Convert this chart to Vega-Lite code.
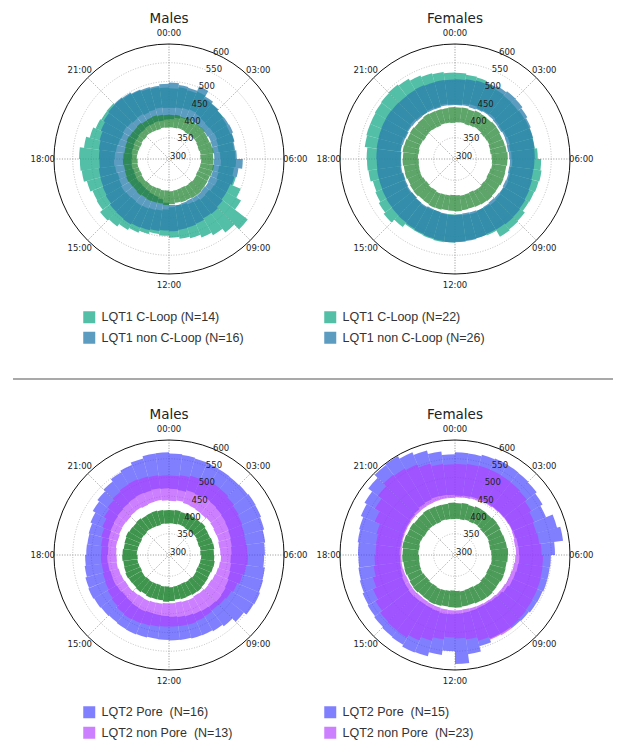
{
"$schema":"https://vega.github.io/schema/vega-lite/v6.json",
"padding":{"left":12,"top":12,"right":5,"bottom":5},
"background":"white",
"config":{"view":{"stroke":null},
 "title":{"font":"DejaVu Sans","fontSize":13.5,"fontWeight":"normal","color":"#222","offset":3,"baseline":"bottom"},
 "legend":{"symbolType":"square","symbolSize":144,"symbolStrokeWidth":0,"labelFont":"Liberation Sans","labelFontSize":12.5,"labelColor":"#333","labelOffset":6,"rowPadding":7.5,"padding":0,"labelLimit":300}},
"datasets":{
"grid":[{"r":300},{"r":350},{"r":400},{"r":450},{"r":500},{"r":550}],
"spokes":[{"h":0},{"h":3},{"h":6},{"h":9},{"h":12},{"h":15},{"h":18},{"h":21}],
"hours":[{"h":0,"lab":"00:00"},{"h":3,"lab":"03:00"},{"h":6,"lab":"06:00"},{"h":9,"lab":"09:00"},{"h":12,"lab":"12:00"},{"h":15,"lab":"15:00"},{"h":18,"lab":"18:00"},{"h":21,"lab":"21:00"}],
"rlab":[{"r":300,"lab":"300"},{"r":350,"lab":"350"},{"r":400,"lab":"400"},{"r":450,"lab":"450"},{"r":500,"lab":"500"},{"r":550,"lab":"550"},{"r":600,"lab":"600"}],
"tl":[
{"t":0,"alo":430,"ahi":482,"blo":400,"bhi":497,"glo":378,"ghi":411},
{"t":0.5,"alo":432,"ahi":486,"blo":404,"bhi":492,"glo":377,"ghi":412},
{"t":1,"alo":434,"ahi":483,"blo":408,"bhi":490,"glo":379,"ghi":410},
{"t":1.5,"alo":436,"ahi":488,"blo":410,"bhi":503,"glo":378,"ghi":413},
{"t":2,"alo":433,"ahi":480,"blo":412,"bhi":486,"glo":376,"ghi":411},
{"t":2.5,"alo":430,"ahi":478,"blo":411,"bhi":480,"glo":377,"ghi":412},
{"t":3,"alo":428,"ahi":476,"blo":413,"bhi":475,"glo":378,"ghi":414},
{"t":3.5,"alo":430,"ahi":472,"blo":412,"bhi":477,"glo":379,"ghi":411},
{"t":4,"alo":432,"ahi":470,"blo":414,"bhi":478,"glo":377,"ghi":410},
{"t":4.5,"alo":429,"ahi":473,"blo":413,"bhi":474,"glo":376,"ghi":412},
{"t":5,"alo":427,"ahi":468,"blo":412,"bhi":471,"glo":378,"ghi":413},
{"t":5.5,"alo":430,"ahi":470,"blo":414,"bhi":474,"glo":377,"ghi":411},
{"t":6,"alo":432,"ahi":472,"blo":413,"bhi":490,"glo":379,"ghi":412},
{"t":6.5,"alo":428,"ahi":468,"blo":412,"bhi":480,"glo":378,"ghi":414},
{"t":7,"alo":430,"ahi":478,"blo":414,"bhi":474,"glo":377,"ghi":413},
{"t":7.5,"alo":434,"ahi":500,"blo":413,"bhi":470,"glo":376,"ghi":411},
{"t":8,"alo":432,"ahi":515,"blo":415,"bhi":470,"glo":378,"ghi":412},
{"t":8.5,"alo":428,"ahi":558,"blo":414,"bhi":474,"glo":379,"ghi":413},
{"t":9,"alo":430,"ahi":540,"blo":416,"bhi":478,"glo":377,"ghi":415},
{"t":9.5,"alo":426,"ahi":528,"blo":415,"bhi":476,"glo":378,"ghi":414},
{"t":10,"alo":424,"ahi":520,"blo":414,"bhi":480,"glo":376,"ghi":412},
{"t":10.5,"alo":420,"ahi":512,"blo":416,"bhi":482,"glo":377,"ghi":413},
{"t":11,"alo":418,"ahi":508,"blo":418,"bhi":484,"glo":378,"ghi":411},
{"t":11.5,"alo":422,"ahi":503,"blo":416,"bhi":486,"glo":379,"ghi":414},
{"t":12,"alo":428,"ahi":498,"blo":410,"bhi":484,"glo":377,"ghi":416},
{"t":12.5,"alo":432,"ahi":495,"blo":402,"bhi":487,"glo":378,"ghi":413},
{"t":13,"alo":434,"ahi":500,"blo":398,"bhi":490,"glo":376,"ghi":414},
{"t":13.5,"alo":436,"ahi":506,"blo":396,"bhi":492,"glo":377,"ghi":415},
{"t":14,"alo":438,"ahi":512,"blo":394,"bhi":495,"glo":378,"ghi":413},
{"t":14.5,"alo":436,"ahi":520,"blo":393,"bhi":493,"glo":377,"ghi":416},
{"t":15,"alo":438,"ahi":525,"blo":392,"bhi":492,"glo":379,"ghi":414},
{"t":15.5,"alo":440,"ahi":516,"blo":394,"bhi":488,"glo":378,"ghi":415},
{"t":16,"alo":437,"ahi":514,"blo":393,"bhi":485,"glo":376,"ghi":417},
{"t":16.5,"alo":435,"ahi":520,"blo":392,"bhi":483,"glo":377,"ghi":415},
{"t":17,"alo":438,"ahi":528,"blo":394,"bhi":482,"glo":378,"ghi":414},
{"t":17.5,"alo":440,"ahi":531,"blo":393,"bhi":479,"glo":377,"ghi":416},
{"t":18,"alo":438,"ahi":533,"blo":392,"bhi":480,"glo":379,"ghi":415},
{"t":18.5,"alo":436,"ahi":522,"blo":394,"bhi":482,"glo":378,"ghi":413},
{"t":19,"alo":434,"ahi":512,"blo":393,"bhi":485,"glo":377,"ghi":414},
{"t":19.5,"alo":432,"ahi":505,"blo":395,"bhi":490,"glo":376,"ghi":416},
{"t":20,"alo":435,"ahi":502,"blo":394,"bhi":495,"glo":378,"ghi":414},
{"t":20.5,"alo":433,"ahi":503,"blo":396,"bhi":498,"glo":377,"ghi":413},
{"t":21,"alo":430,"ahi":498,"blo":395,"bhi":500,"glo":379,"ghi":415},
{"t":21.5,"alo":432,"ahi":495,"blo":397,"bhi":498,"glo":378,"ghi":412},
{"t":22,"alo":428,"ahi":492,"blo":396,"bhi":494,"glo":377,"ghi":413},
{"t":22.5,"alo":430,"ahi":488,"blo":398,"bhi":492,"glo":376,"ghi":414},
{"t":23,"alo":432,"ahi":486,"blo":397,"bhi":490,"glo":378,"ghi":412},
{"t":23.5,"alo":430,"ahi":484,"blo":399,"bhi":494,"glo":377,"ghi":411}
],
"tr":[
{"t":0,"alo":439,"ahi":523,"blo":437,"bhi":506,"glo":391,"ghi":431},
{"t":0.5,"alo":442,"ahi":520,"blo":438,"bhi":508,"glo":392,"ghi":432},
{"t":1,"alo":444,"ahi":518,"blo":436,"bhi":510,"glo":390,"ghi":430},
{"t":1.5,"alo":441,"ahi":512,"blo":438,"bhi":514,"glo":391,"ghi":433},
{"t":2,"alo":443,"ahi":508,"blo":440,"bhi":518,"glo":393,"ghi":432},
{"t":2.5,"alo":445,"ahi":506,"blo":439,"bhi":521,"glo":392,"ghi":431},
{"t":3,"alo":442,"ahi":505,"blo":437,"bhi":520,"glo":390,"ghi":433},
{"t":3.5,"alo":440,"ahi":507,"blo":436,"bhi":516,"glo":391,"ghi":432},
{"t":4,"alo":443,"ahi":508,"blo":438,"bhi":512,"glo":392,"ghi":430},
{"t":4.5,"alo":445,"ahi":508,"blo":437,"bhi":509,"glo":390,"ghi":431},
{"t":5,"alo":442,"ahi":508,"blo":436,"bhi":507,"glo":389,"ghi":432},
{"t":5.5,"alo":444,"ahi":514,"blo":438,"bhi":506,"glo":391,"ghi":434},
{"t":6,"alo":446,"ahi":523,"blo":440,"bhi":505,"glo":392,"ghi":433},
{"t":6.5,"alo":443,"ahi":526,"blo":439,"bhi":504,"glo":393,"ghi":431},
{"t":7,"alo":445,"ahi":524,"blo":441,"bhi":506,"glo":391,"ghi":432},
{"t":7.5,"alo":447,"ahi":522,"blo":440,"bhi":508,"glo":390,"ghi":433},
{"t":8,"alo":444,"ahi":521,"blo":442,"bhi":510,"glo":392,"ghi":431},
{"t":8.5,"alo":446,"ahi":528,"blo":441,"bhi":512,"glo":391,"ghi":432},
{"t":9,"alo":448,"ahi":530,"blo":440,"bhi":513,"glo":393,"ghi":434},
{"t":9.5,"alo":445,"ahi":533,"blo":442,"bhi":511,"glo":392,"ghi":433},
{"t":10,"alo":443,"ahi":514,"blo":443,"bhi":510,"glo":390,"ghi":432},
{"t":10.5,"alo":446,"ahi":512,"blo":441,"bhi":512,"glo":391,"ghi":430},
{"t":11,"alo":444,"ahi":512,"blo":440,"bhi":514,"glo":392,"ghi":431},
{"t":11.5,"alo":442,"ahi":514,"blo":442,"bhi":515,"glo":390,"ghi":433},
{"t":12,"alo":441,"ahi":516,"blo":443,"bhi":516,"glo":389,"ghi":432},
{"t":12.5,"alo":443,"ahi":517,"blo":441,"bhi":514,"glo":391,"ghi":431},
{"t":13,"alo":440,"ahi":515,"blo":440,"bhi":512,"glo":392,"ghi":433},
{"t":13.5,"alo":442,"ahi":513,"blo":439,"bhi":510,"glo":393,"ghi":434},
{"t":14,"alo":444,"ahi":512,"blo":441,"bhi":508,"glo":391,"ghi":432},
{"t":14.5,"alo":441,"ahi":522,"blo":440,"bhi":507,"glo":392,"ghi":431},
{"t":15,"alo":439,"ahi":533,"blo":438,"bhi":506,"glo":390,"ghi":433},
{"t":15.5,"alo":442,"ahi":528,"blo":439,"bhi":505,"glo":391,"ghi":432},
{"t":16,"alo":440,"ahi":523,"blo":437,"bhi":504,"glo":393,"ghi":430},
{"t":16.5,"alo":438,"ahi":520,"blo":436,"bhi":503,"glo":392,"ghi":432},
{"t":17,"alo":441,"ahi":526,"blo":438,"bhi":503,"glo":391,"ghi":431},
{"t":17.5,"alo":439,"ahi":528,"blo":437,"bhi":502,"glo":390,"ghi":433},
{"t":18,"alo":437,"ahi":529,"blo":438,"bhi":503,"glo":392,"ghi":432},
{"t":18.5,"alo":440,"ahi":536,"blo":439,"bhi":504,"glo":391,"ghi":434},
{"t":19,"alo":442,"ahi":538,"blo":437,"bhi":505,"glo":393,"ghi":433},
{"t":19.5,"alo":439,"ahi":538,"blo":436,"bhi":506,"glo":392,"ghi":431},
{"t":20,"alo":441,"ahi":540,"blo":438,"bhi":507,"glo":390,"ghi":432},
{"t":20.5,"alo":443,"ahi":542,"blo":437,"bhi":506,"glo":391,"ghi":430},
{"t":21,"alo":440,"ahi":544,"blo":436,"bhi":505,"glo":392,"ghi":431},
{"t":21.5,"alo":438,"ahi":540,"blo":438,"bhi":506,"glo":391,"ghi":433},
{"t":22,"alo":441,"ahi":534,"blo":437,"bhi":507,"glo":390,"ghi":432},
{"t":22.5,"alo":439,"ahi":530,"blo":436,"bhi":505,"glo":392,"ghi":431},
{"t":23,"alo":442,"ahi":527,"blo":438,"bhi":506,"glo":391,"ghi":430},
{"t":23.5,"alo":440,"ahi":524,"blo":437,"bhi":505,"glo":390,"ghi":432}
],
"bl":[
{"t":0,"alo":470,"ahi":564,"blo":438,"bhi":505,"glo":378,"ghi":413},
{"t":0.5,"alo":468,"ahi":562,"blo":440,"bhi":508,"glo":377,"ghi":414},
{"t":1,"alo":472,"ahi":560,"blo":437,"bhi":512,"glo":379,"ghi":412},
{"t":1.5,"alo":470,"ahi":559,"blo":435,"bhi":515,"glo":378,"ghi":415},
{"t":2,"alo":474,"ahi":558,"blo":433,"bhi":517,"glo":376,"ghi":413},
{"t":2.5,"alo":472,"ahi":557,"blo":432,"bhi":516,"glo":377,"ghi":414},
{"t":3,"alo":470,"ahi":558,"blo":434,"bhi":512,"glo":378,"ghi":416},
{"t":3.5,"alo":468,"ahi":560,"blo":432,"bhi":508,"glo":379,"ghi":413},
{"t":4,"alo":466,"ahi":559,"blo":430,"bhi":505,"glo":377,"ghi":412},
{"t":4.5,"alo":464,"ahi":556,"blo":431,"bhi":502,"glo":376,"ghi":414},
{"t":5,"alo":462,"ahi":552,"blo":429,"bhi":500,"glo":378,"ghi":415},
{"t":5.5,"alo":460,"ahi":549,"blo":430,"bhi":502,"glo":377,"ghi":413},
{"t":6,"alo":458,"ahi":547,"blo":432,"bhi":504,"glo":379,"ghi":414},
{"t":6.5,"alo":460,"ahi":551,"blo":430,"bhi":500,"glo":378,"ghi":416},
{"t":7,"alo":462,"ahi":553,"blo":428,"bhi":496,"glo":377,"ghi":415},
{"t":7.5,"alo":465,"ahi":556,"blo":426,"bhi":490,"glo":376,"ghi":413},
{"t":8,"alo":468,"ahi":554,"blo":424,"bhi":485,"glo":378,"ghi":414},
{"t":8.5,"alo":470,"ahi":545,"blo":425,"bhi":482,"glo":379,"ghi":415},
{"t":9,"alo":468,"ahi":533,"blo":423,"bhi":480,"glo":377,"ghi":417},
{"t":9.5,"alo":466,"ahi":528,"blo":422,"bhi":482,"glo":378,"ghi":416},
{"t":10,"alo":464,"ahi":525,"blo":424,"bhi":484,"glo":376,"ghi":414},
{"t":10.5,"alo":462,"ahi":524,"blo":423,"bhi":486,"glo":377,"ghi":415},
{"t":11,"alo":460,"ahi":522,"blo":421,"bhi":485,"glo":378,"ghi":413},
{"t":11.5,"alo":458,"ahi":521,"blo":422,"bhi":484,"glo":379,"ghi":416},
{"t":12,"alo":456,"ahi":520,"blo":422,"bhi":484,"glo":377,"ghi":418},
{"t":12.5,"alo":455,"ahi":519,"blo":424,"bhi":486,"glo":378,"ghi":415},
{"t":13,"alo":454,"ahi":521,"blo":425,"bhi":488,"glo":376,"ghi":416},
{"t":13.5,"alo":456,"ahi":523,"blo":427,"bhi":490,"glo":377,"ghi":417},
{"t":14,"alo":455,"ahi":522,"blo":426,"bhi":492,"glo":378,"ghi":415},
{"t":14.5,"alo":453,"ahi":520,"blo":428,"bhi":490,"glo":377,"ghi":418},
{"t":15,"alo":452,"ahi":522,"blo":430,"bhi":486,"glo":379,"ghi":416},
{"t":15.5,"alo":454,"ahi":524,"blo":429,"bhi":482,"glo":378,"ghi":417},
{"t":16,"alo":456,"ahi":526,"blo":431,"bhi":478,"glo":376,"ghi":419},
{"t":16.5,"alo":455,"ahi":524,"blo":432,"bhi":476,"glo":377,"ghi":417},
{"t":17,"alo":457,"ahi":520,"blo":434,"bhi":474,"glo":378,"ghi":416},
{"t":17.5,"alo":458,"ahi":517,"blo":433,"bhi":475,"glo":377,"ghi":418},
{"t":18,"alo":456,"ahi":514,"blo":434,"bhi":474,"glo":379,"ghi":417},
{"t":18.5,"alo":458,"ahi":513,"blo":436,"bhi":476,"glo":378,"ghi":415},
{"t":19,"alo":460,"ahi":515,"blo":435,"bhi":480,"glo":377,"ghi":416},
{"t":19.5,"alo":462,"ahi":520,"blo":437,"bhi":486,"glo":376,"ghi":418},
{"t":20,"alo":464,"ahi":528,"blo":438,"bhi":494,"glo":378,"ghi":416},
{"t":20.5,"alo":466,"ahi":534,"blo":437,"bhi":500,"glo":377,"ghi":415},
{"t":21,"alo":468,"ahi":540,"blo":439,"bhi":506,"glo":379,"ghi":417},
{"t":21.5,"alo":470,"ahi":548,"blo":440,"bhi":510,"glo":378,"ghi":414},
{"t":22,"alo":472,"ahi":553,"blo":438,"bhi":512,"glo":377,"ghi":415},
{"t":22.5,"alo":471,"ahi":560,"blo":440,"bhi":510,"glo":376,"ghi":416},
{"t":23,"alo":473,"ahi":566,"blo":441,"bhi":508,"glo":378,"ghi":414},
{"t":23.5,"alo":471,"ahi":567,"blo":439,"bhi":506,"glo":377,"ghi":413}
],
"br":[
{"t":0,"alo":452,"ahi":567,"blo":447,"bhi":536,"glo":390,"ghi":432},
{"t":0.5,"alo":453,"ahi":566,"blo":448,"bhi":538,"glo":389,"ghi":433},
{"t":1,"alo":455,"ahi":570,"blo":450,"bhi":540,"glo":391,"ghi":431},
{"t":1.5,"alo":456,"ahi":572,"blo":452,"bhi":539,"glo":390,"ghi":434},
{"t":2,"alo":456,"ahi":571,"blo":453,"bhi":538,"glo":392,"ghi":433},
{"t":2.5,"alo":457,"ahi":570,"blo":455,"bhi":537,"glo":391,"ghi":432},
{"t":3,"alo":458,"ahi":568,"blo":456,"bhi":535,"glo":389,"ghi":434},
{"t":3.5,"alo":459,"ahi":563,"blo":457,"bhi":528,"glo":390,"ghi":433},
{"t":4,"alo":460,"ahi":556,"blo":458,"bhi":522,"glo":391,"ghi":431},
{"t":4.5,"alo":461,"ahi":575,"blo":457,"bhi":518,"glo":389,"ghi":432},
{"t":5,"alo":463,"ahi":584,"blo":455,"bhi":520,"glo":388,"ghi":433},
{"t":5.5,"alo":464,"ahi":560,"blo":456,"bhi":524,"glo":390,"ghi":435},
{"t":6,"alo":465,"ahi":549,"blo":454,"bhi":528,"glo":391,"ghi":434},
{"t":6.5,"alo":463,"ahi":548,"blo":452,"bhi":529,"glo":392,"ghi":432},
{"t":7,"alo":461,"ahi":548,"blo":450,"bhi":530,"glo":390,"ghi":433},
{"t":7.5,"alo":460,"ahi":546,"blo":449,"bhi":531,"glo":389,"ghi":434},
{"t":8,"alo":456,"ahi":545,"blo":447,"bhi":532,"glo":391,"ghi":432},
{"t":8.5,"alo":452,"ahi":542,"blo":446,"bhi":534,"glo":390,"ghi":433},
{"t":9,"alo":450,"ahi":540,"blo":444,"bhi":536,"glo":392,"ghi":435},
{"t":9.5,"alo":448,"ahi":536,"blo":443,"bhi":540,"glo":391,"ghi":434},
{"t":10,"alo":447,"ahi":535,"blo":442,"bhi":538,"glo":389,"ghi":433},
{"t":10.5,"alo":448,"ahi":545,"blo":441,"bhi":530,"glo":390,"ghi":431},
{"t":11,"alo":449,"ahi":560,"blo":440,"bhi":520,"glo":391,"ghi":432},
{"t":11.5,"alo":450,"ahi":584,"blo":441,"bhi":516,"glo":389,"ghi":434},
{"t":12,"alo":451,"ahi":550,"blo":441,"bhi":513,"glo":388,"ghi":433},
{"t":12.5,"alo":452,"ahi":562,"blo":440,"bhi":520,"glo":390,"ghi":432},
{"t":13,"alo":450,"ahi":573,"blo":439,"bhi":530,"glo":391,"ghi":434},
{"t":13.5,"alo":448,"ahi":575,"blo":438,"bhi":540,"glo":392,"ghi":435},
{"t":14,"alo":447,"ahi":570,"blo":437,"bhi":548,"glo":390,"ghi":433},
{"t":14.5,"alo":448,"ahi":568,"blo":436,"bhi":547,"glo":391,"ghi":432},
{"t":15,"alo":449,"ahi":565,"blo":437,"bhi":545,"glo":389,"ghi":434},
{"t":15.5,"alo":447,"ahi":562,"blo":436,"bhi":538,"glo":390,"ghi":433},
{"t":16,"alo":446,"ahi":560,"blo":435,"bhi":530,"glo":392,"ghi":431},
{"t":16.5,"alo":443,"ahi":556,"blo":436,"bhi":520,"glo":391,"ghi":433},
{"t":17,"alo":441,"ahi":553,"blo":437,"bhi":512,"glo":390,"ghi":432},
{"t":17.5,"alo":440,"ahi":551,"blo":436,"bhi":508,"glo":389,"ghi":434},
{"t":18,"alo":441,"ahi":552,"blo":436,"bhi":505,"glo":391,"ghi":433},
{"t":18.5,"alo":440,"ahi":555,"blo":437,"bhi":506,"glo":390,"ghi":435},
{"t":19,"alo":441,"ahi":558,"blo":438,"bhi":510,"glo":392,"ghi":434},
{"t":19.5,"alo":442,"ahi":565,"blo":439,"bhi":525,"glo":391,"ghi":432},
{"t":20,"alo":443,"ahi":572,"blo":440,"bhi":540,"glo":389,"ghi":433},
{"t":20.5,"alo":445,"ahi":585,"blo":441,"bhi":553,"glo":390,"ghi":431},
{"t":21,"alo":448,"ahi":596,"blo":442,"bhi":563,"glo":391,"ghi":432},
{"t":21.5,"alo":452,"ahi":598,"blo":443,"bhi":560,"glo":390,"ghi":434},
{"t":22,"alo":454,"ahi":590,"blo":444,"bhi":555,"glo":389,"ghi":433},
{"t":22.5,"alo":456,"ahi":582,"blo":445,"bhi":546,"glo":391,"ghi":432},
{"t":23,"alo":455,"ahi":572,"blo":446,"bhi":538,"glo":390,"ghi":431},
{"t":23.5,"alo":454,"ahi":562,"blo":446,"bhi":535,"glo":389,"ghi":433}
]
},
"columns":2,
"spacing":{"row":156,"column":0},
"bounds":"flush",
"resolve":{"scale":{"color":"independent"}},
"concat":[
{"width":286,"height":240,"title":{"text":"Males"},
"layer":[
{"data":{"values":[{}]},"mark":{"type":"rule","color":"#8c8c8c","strokeWidth":1.3},"encoding":{"x":{"datum":-13,"type":"quantitative","scale":{"domain":[0,286],"nice":false,"zero":false},"axis":null},"x2":{"datum":587},"y":{"datum":-100,"type":"quantitative","scale":{"domain":[0,240],"nice":false,"zero":false},"axis":null}}},
{"data":{"name":"grid"},"mark":{"type":"arc","theta":0,"theta2":6.2832,"filled":false,"stroke":"#b0b0b0","strokeWidth":0.8,"strokeDash":[1,1.6]},"encoding":{"radius":{"field":"r","type":"quantitative","scale":{"type":"linear","domain":[293,600],"range":[0,115],"zero":false,"nice":false}},"radius2":{"datum":293}}},
{"data":{"name":"spokes"},"mark":{"type":"arc","filled":false,"stroke":"#b0b0b0","strokeWidth":0.8,"strokeDash":[1,1.6]},"encoding":{"theta":{"field":"h","type":"quantitative","stack":null,"scale":{"type":"linear","domain":[0,24],"range":[0,6.283185307179586],"zero":false,"nice":false}},"theta2":{"field":"h"},"radius":{"datum":600,"type":"quantitative"},"radius2":{"datum":293}}},
{"data":{"name":"tl"},"transform":[{"bin":{"step":0.5,"extent":[0,24]},"field":"t","as":["t0","t1"]}],"layer":[
{"mark":{"type":"arc","fillOpacity":0.77},"encoding":{"theta":{"field":"t0","type":"quantitative","stack":null},"theta2":{"field":"t1"},"radius":{"field":"ahi","type":"quantitative"},"radius2":{"field":"alo"},"color":{"datum":"LQT1 C-Loop (N=14)","type":"nominal","scale":{"domain":["LQT1 C-Loop (N=14)","LQT1 non C-Loop (N=16)"],"range":["#1eac8b","#297ead"]},"legend":{"orient":"none","legendX":57,"legendY":272,"title":null,"symbolOpacity":0.77}}}},
{"mark":{"type":"arc","fillOpacity":0.77},"encoding":{"theta":{"field":"t0","type":"quantitative","stack":null},"theta2":{"field":"t1"},"radius":{"field":"bhi","type":"quantitative"},"radius2":{"field":"blo"},"color":{"datum":"LQT1 non C-Loop (N=16)","type":"nominal"}}},
{"mark":{"type":"arc","fill":"#1f822f","fillOpacity":0.72},"encoding":{"theta":{"field":"t0","type":"quantitative","stack":null},"theta2":{"field":"t1"},"radius":{"field":"ghi","type":"quantitative"},"radius2":{"field":"glo"}}}
]},
{"data":{"values":[{}]},"mark":{"type":"arc","theta":0,"theta2":6.2832,"filled":false,"stroke":"#111","strokeWidth":1},"encoding":{"radius":{"datum":600,"type":"quantitative"},"radius2":{"datum":293}}},
{"data":{"name":"rlab"},"mark":{"type":"text","align":"left","baseline":"middle","font":"DejaVu Sans","fontSize":8.5,"color":"#222","dy":-1},"encoding":{"theta":{"datum":1.5,"type":"quantitative"},"radius":{"field":"r","type":"quantitative"},"text":{"field":"lab"}}},
{"data":{"name":"hours"},"mark":{"type":"text","align":"center","baseline":"middle","font":"DejaVu Sans","fontSize":8.5,"color":"#222"},"encoding":{"theta":{"field":"h","type":"quantitative","stack":null},"radius":{"datum":630,"type":"quantitative"},"text":{"field":"lab"}}}
]},
{"width":286,"height":240,"title":{"text":"Females"},
"layer":[
{"data":{"name":"grid"},"mark":{"type":"arc","theta":0,"theta2":6.2832,"filled":false,"stroke":"#b0b0b0","strokeWidth":0.8,"strokeDash":[1,1.6]},"encoding":{"radius":{"field":"r","type":"quantitative","scale":{"type":"linear","domain":[293,600],"range":[0,115],"zero":false,"nice":false}},"radius2":{"datum":293}}},
{"data":{"name":"spokes"},"mark":{"type":"arc","filled":false,"stroke":"#b0b0b0","strokeWidth":0.8,"strokeDash":[1,1.6]},"encoding":{"theta":{"field":"h","type":"quantitative","stack":null,"scale":{"type":"linear","domain":[0,24],"range":[0,6.283185307179586],"zero":false,"nice":false}},"theta2":{"field":"h"},"radius":{"datum":600,"type":"quantitative"},"radius2":{"datum":293}}},
{"data":{"name":"tr"},"transform":[{"bin":{"step":0.5,"extent":[0,24]},"field":"t","as":["t0","t1"]}],"layer":[
{"mark":{"type":"arc","fillOpacity":0.77},"encoding":{"theta":{"field":"t0","type":"quantitative","stack":null},"theta2":{"field":"t1"},"radius":{"field":"ahi","type":"quantitative"},"radius2":{"field":"alo"},"color":{"datum":"LQT1 C-Loop (N=22)","type":"nominal","scale":{"domain":["LQT1 C-Loop (N=22)","LQT1 non C-Loop (N=26)"],"range":["#1eac8b","#297ead"]},"legend":{"orient":"none","legendX":12,"legendY":272,"title":null,"symbolOpacity":0.77}}}},
{"mark":{"type":"arc","fillOpacity":0.77},"encoding":{"theta":{"field":"t0","type":"quantitative","stack":null},"theta2":{"field":"t1"},"radius":{"field":"bhi","type":"quantitative"},"radius2":{"field":"blo"},"color":{"datum":"LQT1 non C-Loop (N=26)","type":"nominal"}}},
{"mark":{"type":"arc","fill":"#1f822f","fillOpacity":0.72},"encoding":{"theta":{"field":"t0","type":"quantitative","stack":null},"theta2":{"field":"t1"},"radius":{"field":"ghi","type":"quantitative"},"radius2":{"field":"glo"}}}
]},
{"data":{"values":[{}]},"mark":{"type":"arc","theta":0,"theta2":6.2832,"filled":false,"stroke":"#111","strokeWidth":1},"encoding":{"radius":{"datum":600,"type":"quantitative"},"radius2":{"datum":293}}},
{"data":{"name":"rlab"},"mark":{"type":"text","align":"left","baseline":"middle","font":"DejaVu Sans","fontSize":8.5,"color":"#222","dy":-1},"encoding":{"theta":{"datum":1.5,"type":"quantitative"},"radius":{"field":"r","type":"quantitative"},"text":{"field":"lab"}}},
{"data":{"name":"hours"},"mark":{"type":"text","align":"center","baseline":"middle","font":"DejaVu Sans","fontSize":8.5,"color":"#222"},"encoding":{"theta":{"field":"h","type":"quantitative","stack":null},"radius":{"datum":630,"type":"quantitative"},"text":{"field":"lab"}}}
]},
{"width":286,"height":240,"title":{"text":"Males"},
"layer":[
{"data":{"name":"grid"},"mark":{"type":"arc","theta":0,"theta2":6.2832,"filled":false,"stroke":"#b0b0b0","strokeWidth":0.8,"strokeDash":[1,1.6]},"encoding":{"radius":{"field":"r","type":"quantitative","scale":{"type":"linear","domain":[293,600],"range":[0,115],"zero":false,"nice":false}},"radius2":{"datum":293}}},
{"data":{"name":"spokes"},"mark":{"type":"arc","filled":false,"stroke":"#b0b0b0","strokeWidth":0.8,"strokeDash":[1,1.6]},"encoding":{"theta":{"field":"h","type":"quantitative","stack":null,"scale":{"type":"linear","domain":[0,24],"range":[0,6.283185307179586],"zero":false,"nice":false}},"theta2":{"field":"h"},"radius":{"datum":600,"type":"quantitative"},"radius2":{"datum":293}}},
{"data":{"name":"bl"},"transform":[{"bin":{"step":0.5,"extent":[0,24]},"field":"t","as":["t0","t1"]}],"layer":[
{"mark":{"type":"arc","fillOpacity":0.65},"encoding":{"theta":{"field":"t0","type":"quantitative","stack":null},"theta2":{"field":"t1"},"radius":{"field":"ahi","type":"quantitative"},"radius2":{"field":"alo"},"color":{"datum":"LQT2 Pore\u00a0 (N=16)","type":"nominal","scale":{"domain":["LQT2 Pore\u00a0 (N=16)","LQT2 non Pore\u00a0 (N=13)"],"range":["#3c3cff","#b13cff"]},"legend":{"orient":"none","legendX":57,"legendY":271,"title":null,"symbolOpacity":0.65}}}},
{"mark":{"type":"arc","fillOpacity":0.65},"encoding":{"theta":{"field":"t0","type":"quantitative","stack":null},"theta2":{"field":"t1"},"radius":{"field":"bhi","type":"quantitative"},"radius2":{"field":"blo"},"color":{"datum":"LQT2 non Pore\u00a0 (N=13)","type":"nominal"}}},
{"mark":{"type":"arc","fill":"#1f822f","fillOpacity":0.85},"encoding":{"theta":{"field":"t0","type":"quantitative","stack":null},"theta2":{"field":"t1"},"radius":{"field":"ghi","type":"quantitative"},"radius2":{"field":"glo"}}}
]},
{"data":{"values":[{}]},"mark":{"type":"arc","theta":0,"theta2":6.2832,"filled":false,"stroke":"#111","strokeWidth":1},"encoding":{"radius":{"datum":600,"type":"quantitative"},"radius2":{"datum":293}}},
{"data":{"name":"rlab"},"mark":{"type":"text","align":"left","baseline":"middle","font":"DejaVu Sans","fontSize":8.5,"color":"#222","dy":-1},"encoding":{"theta":{"datum":1.5,"type":"quantitative"},"radius":{"field":"r","type":"quantitative"},"text":{"field":"lab"}}},
{"data":{"name":"hours"},"mark":{"type":"text","align":"center","baseline":"middle","font":"DejaVu Sans","fontSize":8.5,"color":"#222"},"encoding":{"theta":{"field":"h","type":"quantitative","stack":null},"radius":{"datum":630,"type":"quantitative"},"text":{"field":"lab"}}}
]},
{"width":286,"height":240,"title":{"text":"Females"},
"layer":[
{"data":{"name":"grid"},"mark":{"type":"arc","theta":0,"theta2":6.2832,"filled":false,"stroke":"#b0b0b0","strokeWidth":0.8,"strokeDash":[1,1.6]},"encoding":{"radius":{"field":"r","type":"quantitative","scale":{"type":"linear","domain":[293,600],"range":[0,115],"zero":false,"nice":false}},"radius2":{"datum":293}}},
{"data":{"name":"spokes"},"mark":{"type":"arc","filled":false,"stroke":"#b0b0b0","strokeWidth":0.8,"strokeDash":[1,1.6]},"encoding":{"theta":{"field":"h","type":"quantitative","stack":null,"scale":{"type":"linear","domain":[0,24],"range":[0,6.283185307179586],"zero":false,"nice":false}},"theta2":{"field":"h"},"radius":{"datum":600,"type":"quantitative"},"radius2":{"datum":293}}},
{"data":{"name":"br"},"transform":[{"bin":{"step":0.5,"extent":[0,24]},"field":"t","as":["t0","t1"]}],"layer":[
{"mark":{"type":"arc","fillOpacity":0.65},"encoding":{"theta":{"field":"t0","type":"quantitative","stack":null},"theta2":{"field":"t1"},"radius":{"field":"ahi","type":"quantitative"},"radius2":{"field":"alo"},"color":{"datum":"LQT2 Pore\u00a0 (N=15)","type":"nominal","scale":{"domain":["LQT2 Pore\u00a0 (N=15)","LQT2 non Pore\u00a0 (N=23)"],"range":["#3c3cff","#b13cff"]},"legend":{"orient":"none","legendX":12,"legendY":271,"title":null,"symbolOpacity":0.65}}}},
{"mark":{"type":"arc","fillOpacity":0.65},"encoding":{"theta":{"field":"t0","type":"quantitative","stack":null},"theta2":{"field":"t1"},"radius":{"field":"bhi","type":"quantitative"},"radius2":{"field":"blo"},"color":{"datum":"LQT2 non Pore\u00a0 (N=23)","type":"nominal"}}},
{"mark":{"type":"arc","fill":"#1f822f","fillOpacity":0.8},"encoding":{"theta":{"field":"t0","type":"quantitative","stack":null},"theta2":{"field":"t1"},"radius":{"field":"ghi","type":"quantitative"},"radius2":{"field":"glo"}}}
]},
{"data":{"values":[{}]},"mark":{"type":"arc","theta":0,"theta2":6.2832,"filled":false,"stroke":"#111","strokeWidth":1},"encoding":{"radius":{"datum":600,"type":"quantitative"},"radius2":{"datum":293}}},
{"data":{"name":"rlab"},"mark":{"type":"text","align":"left","baseline":"middle","font":"DejaVu Sans","fontSize":8.5,"color":"#222","dy":-1},"encoding":{"theta":{"datum":1.5,"type":"quantitative"},"radius":{"field":"r","type":"quantitative"},"text":{"field":"lab"}}},
{"data":{"name":"hours"},"mark":{"type":"text","align":"center","baseline":"middle","font":"DejaVu Sans","fontSize":8.5,"color":"#222"},"encoding":{"theta":{"field":"h","type":"quantitative","stack":null},"radius":{"datum":630,"type":"quantitative"},"text":{"field":"lab"}}}
]}
]
}
